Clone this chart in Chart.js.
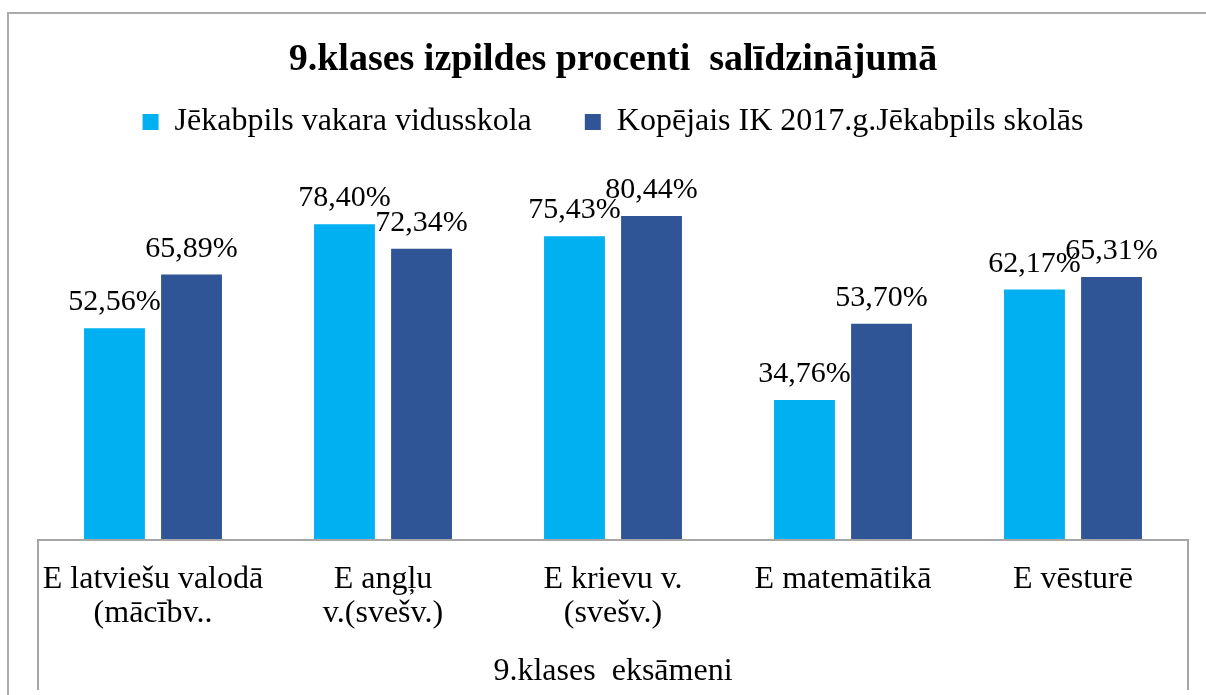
<!DOCTYPE html>
<html>
<head>
<meta charset="utf-8">
<script src="https://cdn.jsdelivr.net/npm/chart.js@4"></script>
<style>
    body { margin: 0; background: #fff; overflow: hidden; }
    #frame {
        position: absolute; left: 7px; top: 12px; width: 1400px; height: 900px;
        border-left: 2px solid #ababab; border-top: 2px solid #ababab;
    }
    #wrap { position: absolute; left: 0; top: 0; width: 1206px; height: 695px; }
</style>
</head>
<body>
<div id="frame"></div>
<div id="wrap"><canvas id="chart"></canvas></div>
<script>
const categories = [
    ['E latviešu valodā', '(mācībv..'],
    ['E angļu', 'v.(svešv.)'],
    ['E krievu v.', '(svešv.)'],
    'E matemātikā',
    'E vēsturē'
];
const seriesNames = ['Jēkabpils vakara vidusskola', 'Kopējais IK 2017.g.Jēkabpils skolās'];
const schoolValues = [52.56, 78.40, 75.43, 34.76, 62.17];
const totalValues = [65.89, 72.34, 80.44, 53.70, 65.31];

const serif = '"Liberation Serif", "Times New Roman", serif';

// vērtību etiķetes virs stabiņiem
const barLabels = {
    id: 'barLabels',
    afterDatasetsDraw(chart) {
        const ctx = chart.ctx;
        ctx.save();
        ctx.font = '30px ' + serif;
        ctx.fillStyle = '#000';
        ctx.textAlign = 'center';
        ctx.textBaseline = 'alphabetic';
        chart.data.datasets.forEach((ds, i) => {
            chart.getDatasetMeta(i).data.forEach((bar, j) => {
                const txt = ds.data[j].toFixed(2).replace('.', ',') + '%';
                ctx.fillText(txt, bar.x, bar.y - 18);
            });
        });
        ctx.restore();
    }
};

// rāmis ap kategoriju asi
const axisBox = {
    id: 'axisBox',
    afterDraw(chart) {
        const x = chart.scales.x;
        const ctx = chart.ctx;
        ctx.save();
        ctx.strokeStyle = '#a6a6a6';
        ctx.lineWidth = 2;
        ctx.beginPath();
        ctx.moveTo(x.left, 690);
        ctx.lineTo(x.left, x.top);
        ctx.lineTo(x.right, x.top);
        ctx.lineTo(x.right, 690);
        ctx.stroke();
        ctx.restore();
    }
};

const legendSpace = {
    id: 'legendSpace',
    beforeInit(chart) {
        const fit = chart.legend.fit;
        chart.legend.fit = function () {
            fit.bind(chart.legend)();
            this.height = 124.5;
        };
    }
};

new Chart(document.getElementById('chart'), {
    type: 'bar',
    data: {
        labels: categories,
        datasets: [
            { label: seriesNames[0], data: schoolValues, backgroundColor: '#00b0f0' },
            { label: seriesNames[1], data: totalValues, backgroundColor: '#2f5597' }
        ]
    },
    options: {
        responsive: true,
        maintainAspectRatio: false,
        animation: false,
        layout: { padding: { left: 38, right: 18, top: 0, bottom: 0 } },
        datasets: { bar: { categoryPercentage: 0.67, barPercentage: 0.79 } },
        plugins: {
            title: {
                display: true,
                text: '9.klases izpildes procenti  salīdzinājumā',
                color: '#000',
                font: { family: serif, size: 38, weight: 'bold', lineHeight: 0 },
                padding: { top: 60, bottom: -7 }
            },
            legend: {
                position: 'top',
                labels: {
                    color: '#000',
                    font: { family: serif, size: 32 },
                    boxWidth: 16,
                    boxHeight: 16,
                    padding: 53
                }
            },
            tooltip: { enabled: false }
        },
        scales: {
            y: { display: false, min: 0, max: 90 },
            x: {
                grid: { display: false },
                border: { display: false },
                ticks: {
                    color: '#000',
                    font: { family: serif, size: 32, lineHeight: 1.08 },
                    maxRotation: 0,
                    autoSkip: false,
                    padding: 14
                },
                title: {
                    display: true,
                    text: '9.klases  eksāmeni',
                    color: '#000',
                    font: { family: serif, size: 32 },
                    padding: { top: 4, bottom: 4 }
                },
                afterFit(scale) { scale.height = 155; }
            }
        }
    },
    plugins: [barLabels, axisBox, legendSpace]
});
</script>
</body>
</html>
